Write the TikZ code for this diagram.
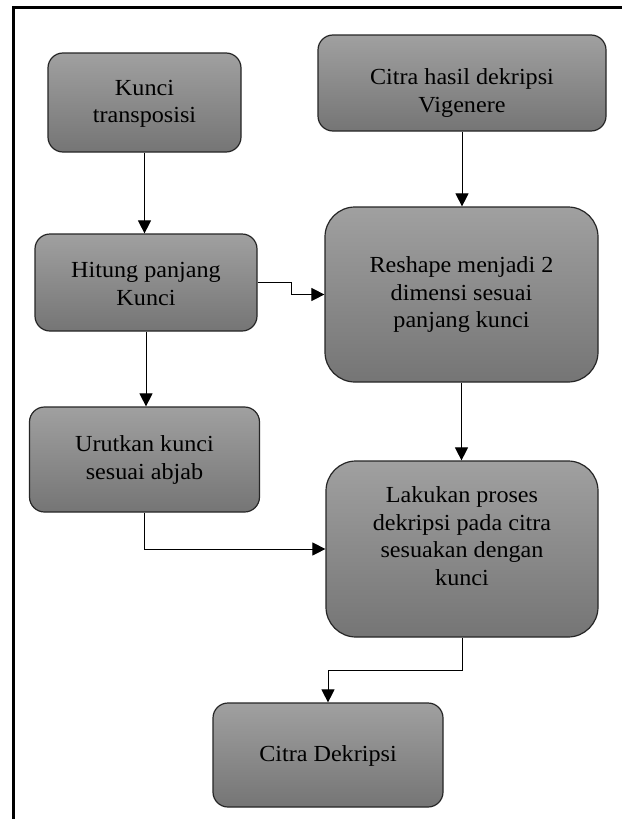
\documentclass[tikz,border=0pt]{standalone}
\usepackage{fontspec}
\setmainfont[FakeStretch=1.05]{Liberation Serif}
\usetikzlibrary{arrows.meta}
\definecolor{gtop}{RGB}{160,160,160}
\definecolor{gbot}{RGB}{117,117,117}
\begin{document}
\begin{tikzpicture}[x=1pt,y=-1pt,
  box/.style={draw=black!85, line width=1.2pt, rounded corners=15pt,
    top color=gtop, bottom color=gbot, inner sep=0pt},
  bigbox/.style={box, rounded corners=30pt},
  txt/.style={align=center, inner sep=0pt, text=black,
    font=\fontsize{23}{27.5}\selectfont},
  conn/.style={line width=1pt, draw=black, -{Triangle[length=13pt,width=13pt]}}]
\useasboundingbox (0,0) rectangle (621,819);
\fill[white] (0,0) rectangle (621,819);
\draw[line width=3pt] (13,7) rectangle (650,850);

% boxes
\node[box, minimum width=193pt, minimum height=99pt] (kt) at (144.5,102.5) {};
\node[txt] (ktt) at (144.5,104) {Kunci\\transposisi};

\node[box, minimum width=288pt, minimum height=96pt] (ch) at (462,83) {};
\node[txt] (cht) at (462,93) {Citra hasil dekripsi\\Vigenere};

\node[box, minimum width=222pt, minimum height=97pt] (hp) at (146,282.5) {};
\node[txt] (hpt) at (146,284) {Hitung panjang\\Kunci};

\node[bigbox, minimum width=273pt, minimum height=175pt] (rs) at (461.5,294.5) {};
\node[txt] (rst) at (461.5,294.5) {Reshape menjadi 2\\dimensi sesuai\\panjang kunci};

\node[box, minimum width=230pt, minimum height=105pt] (uk) at (144.5,459.5) {};
\node[txt] (ukt) at (144.5,460) {Urutkan kunci\\sesuai abjab};

\node[bigbox, minimum width=272pt, minimum height=176pt] (lp) at (462,549) {};
\node[txt] (lpt) at (462,536) {Lakukan proses\\dekripsi pada citra\\sesuakan dengan\\kunci};

\node[box, minimum width=230pt, minimum height=104pt] (cd) at (328,755) {};
\node[txt] (cdt) at (328,755.5) {Citra Dekripsi};

% connectors
\coordinate (b1) at (291,0);
\draw[conn] (kt.south) -- (kt.south |- hp.north);
\draw[conn] (ch.south) -- (ch.south |- rs.north);
\draw[conn] (hp.east) -- (hp.east -| b1) -- (b1 |- rs.west) -- (rs.west);
\draw[conn] (hp.south) -- (hp.south |- uk.north);
\draw[conn] (rs.south) -- (rs.south |- lp.north);
\draw[conn] (uk.south) |- (lp.west);
\draw[conn] (lp.south) -- ++(0,33) -| (cd.north);
\end{tikzpicture}
\end{document}
